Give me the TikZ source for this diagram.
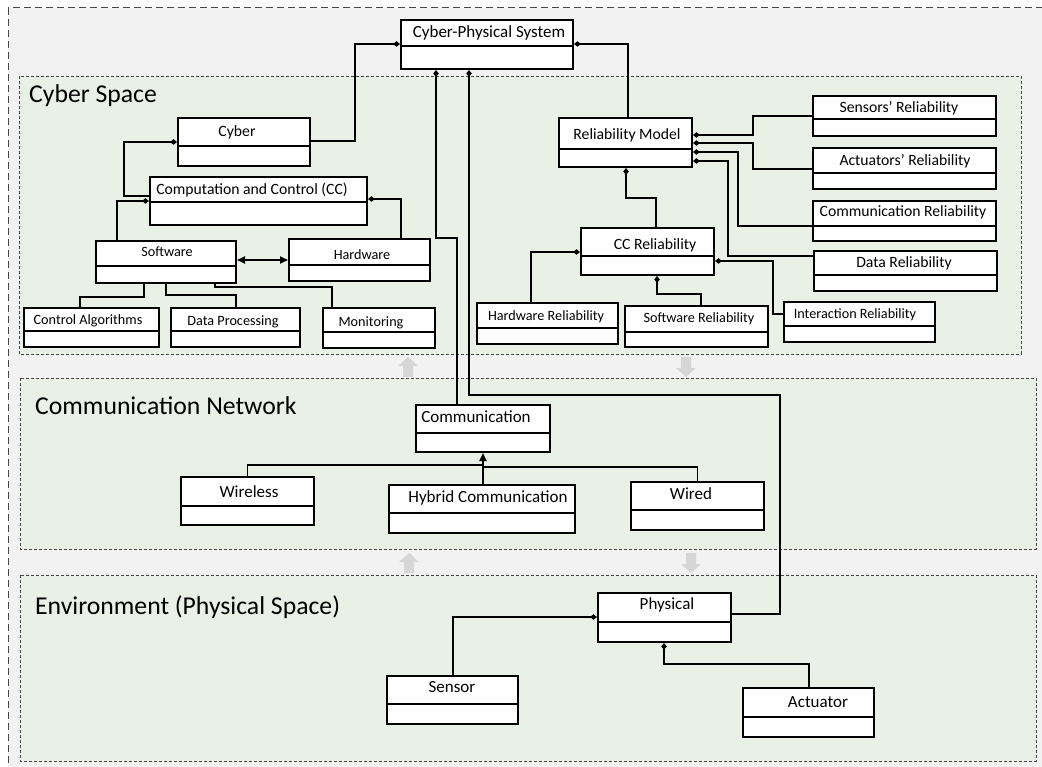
\documentclass[tikz,border=0pt]{standalone}
\usepackage{fontspec}
\setmainfont{Carlito}
\usetikzlibrary{arrows.meta,fit}
\definecolor{panelgreen}{RGB}{233,240,229}
\definecolor{outergray}{RGB}{242,242,242}
\definecolor{dashgray}{RGB}{70,70,70}
\definecolor{blockarrow}{RGB}{214,214,214}
\begin{document}
\begin{tikzpicture}[x=1pt,y=-1pt,
  umlbox/.style={draw=black, line width=2pt, fill=white, inner sep=0pt},
  divider/.style={draw=black, line width=2pt},
  conn/.style={draw=black, line width=1.8pt, line join=miter},
  panel/.style={fill=panelgreen, draw=dashgray, line width=0.9pt, dash pattern=on 3pt off 2pt},
  tbase/.style={inner sep=0pt, text height=0.68em, text depth=0.18em, yshift=-2pt},
  ta/.style={tbase, font=\fontsize{14.2}{17}\selectfont},
  tb/.style={tbase, font=\fontsize{15.7}{19}\selectfont},
  tc/.style={tbase, font=\fontsize{17}{20}\selectfont},
  title/.style={inner sep=0pt, text height=0.68em, text depth=0.18em, yshift=-5pt, anchor=west, font=\fontsize{25.7}{30}\selectfont},
  blk/.style={fill=blockarrow, draw=none}
]
\useasboundingbox (0,0) rectangle (1042,767);
\clip (0,0) rectangle (1042,767);
\fill[white] (0,0) rectangle (1042,767);
% outer frame
\draw[fill=outergray, draw=dashgray, line width=1pt, dash pattern=on 7pt off 4pt] (8,8) rectangle (1070,800);
% panels
\draw[panel] (19,76) rectangle (1021,354);
\draw[panel] (20,378) rectangle (1036,549);
\draw[panel] (20,575) rectangle (1036,761);
\node[title] (tCyberSpace) at (29,95) {Cyber Space};
\node[title] (tCommNet) at (35,407) {Communication Network};
\node[title] (tEnv) at (35,607) {Environment (Physical Space)};
% block arrows between layers
\fill[blk] (408,357) -- (418,366) -- (413,366) -- (413,377) -- (403,377) -- (403,366) -- (398,366) -- cycle;
\fill[blk] (686,377) -- (696,368) -- (691,368) -- (691,357) -- (681,357) -- (681,368) -- (676,368) -- cycle;
\fill[blk] (409,553) -- (419,562) -- (414,562) -- (414,573) -- (404,573) -- (404,562) -- (399,562) -- cycle;
\fill[blk] (691,573) -- (701,564) -- (696,564) -- (696,553) -- (686,553) -- (686,564) -- (681,564) -- cycle;

% ---- boxes ----
\node[umlbox, fit={(401,20) (573,69)}] (cps) {};
\draw[divider] (cps.west |- 0,46) -- (cps.east |- 0,46);
\node[tc] (cpsT) at (489,33) {Cyber-Physical System};

\node[umlbox, fit={(178,118) (310,166)}] (cyber) {};
\draw[divider] (cyber.west |- 0,146) -- (cyber.east |- 0,146);
\node[tb] (cyberT) at (237,132) {Cyber};

\node[umlbox, fit={(150,177) (367,225)}] (cc) {};
\draw[divider] (cc.west |- 0,202) -- (cc.east |- 0,202);
\node[tb] (ccT) at (252,190) {Computation and Control (CC)};

\node[umlbox, fit={(96,241) (236,283)}] (software) {};
\draw[divider] (software.west |- 0,266) -- (software.east |- 0,266);
\node[ta] (softwareT) at (167,252) {Software};

\node[umlbox, fit={(289,239) (430,281)}] (hardware) {};
\draw[divider] (hardware.west |- 0,265) -- (hardware.east |- 0,265);
\node[ta] (hardwareT) at (362,255) {Hardware};

\node[umlbox, fit={(24,308) (159,347)}] (ctrlalg) {};
\draw[divider] (ctrlalg.west |- 0,331) -- (ctrlalg.east |- 0,331);
\node[ta] (ctrlalgT) at (88,320) {Control Algorithms};

\node[umlbox, fit={(171,308) (300,347)}] (dataproc) {};
\draw[divider] (dataproc.west |- 0,331) -- (dataproc.east |- 0,331);
\node[ta] (dataprocT) at (233,321) {Data Processing};

\node[umlbox, fit={(323,308) (435,348)}] (monitor) {};
\draw[divider] (monitor.west |- 0,332) -- (monitor.east |- 0,332);
\node[ta] (monitorT) at (371,322) {Monitoring};

\node[umlbox, fit={(559,118) (692,167)}] (relmodel) {};
\draw[divider] (relmodel.west |- 0,149) -- (relmodel.east |- 0,149);
\node[tb] (relmodelT) at (627,135) {Reliability Model};

\node[umlbox, fit={(813,96) (996,136)}] (sensrel) {};
\draw[divider] (sensrel.west |- 0,119) -- (sensrel.east |- 0,119);
\node[tb] (sensrelT) at (899,108) {Sensors’ Reliability};

\node[umlbox, fit={(813,148) (996,189)}] (actrel) {};
\draw[divider] (actrel.west |- 0,173) -- (actrel.east |- 0,173);
\node[tb] (actrelT) at (905,161) {Actuators’ Reliability};

\node[umlbox, fit={(813,201) (996,241)}] (commrel) {};
\draw[divider] (commrel.west |- 0,226) -- (commrel.east |- 0,226);
\node[tb] (commrelT) at (903,212) {Communication Reliability};

\node[umlbox, fit={(814,251) (997,291)}] (datarel) {};
\draw[divider] (datarel.west |- 0,275) -- (datarel.east |- 0,275);
\node[tb] (datarelT) at (904,263) {Data Reliability};

\node[umlbox, fit={(581,228) (714,275)}] (ccrel) {};
\draw[divider] (ccrel.west |- 0,256) -- (ccrel.east |- 0,256);
\node[tb] (ccrelT) at (655,245) {CC Reliability};

\node[umlbox, fit={(477,303) (618,344)}] (hwrel) {};
\draw[divider] (hwrel.west |- 0,328) -- (hwrel.east |- 0,328);
\node[ta] (hwrelT) at (546,316) {Hardware Reliability};

\node[umlbox, fit={(625,306) (768,347)}] (swrel) {};
\draw[divider] (swrel.west |- 0,332) -- (swrel.east |- 0,332);
\node[ta] (swrelT) at (699,318) {Software Reliability};

\node[umlbox, fit={(784,302) (935,342)}] (intrel) {};
\draw[divider] (intrel.west |- 0,326) -- (intrel.east |- 0,326);
\node[ta] (intrelT) at (855,314) {Interaction Reliability};

\node[umlbox, fit={(416,405) (550,452)}] (comm) {};
\draw[divider] (comm.west |- 0,433) -- (comm.east |- 0,433);
\node[tc] (commT) at (476,418) {Communication};

\node[umlbox, fit={(181,477) (314,525)}] (wireless) {};
\draw[divider] (wireless.west |- 0,506) -- (wireless.east |- 0,506);
\node[tc] (wirelessT) at (249,493) {Wireless};

\node[umlbox, fit={(389,485) (575,533)}] (hybrid) {};
\draw[divider] (hybrid.west |- 0,513) -- (hybrid.east |- 0,513);
\node[tc] (hybridT) at (488,498) {Hybrid Communication};

\node[umlbox, fit={(631,482) (764,530)}] (wired) {};
\draw[divider] (wired.west |- 0,510) -- (wired.east |- 0,510);
\node[tc] (wiredT) at (691,495) {Wired};

\node[umlbox, fit={(598,593) (731,642)}] (physical) {};
\draw[divider] (physical.west |- 0,622) -- (physical.east |- 0,622);
\node[tc] (physicalT) at (667,605) {Physical};

\node[umlbox, fit={(387,676) (518,724)}] (sensor) {};
\draw[divider] (sensor.west |- 0,704) -- (sensor.east |- 0,704);
\node[tc] (sensorT) at (452,688) {Sensor};

\node[umlbox, fit={(743,688) (874,737)}] (actuator) {};
\draw[divider] (actuator.west |- 0,717) -- (actuator.east |- 0,717);
\node[tc] (actuatorT) at (818,703) {Actuator};

% ---- connectors ----
\draw[conn, -{Diamond[length=7pt,width=5.5pt]}] (cyber.east |- 0,141) -- (355,141) -- (355,44) -- (cps.west |- 0,44);
\draw[conn, -{Diamond[length=7pt,width=5.5pt]}] (relmodel.north -| 628,0) -- (628,44) -- (cps.east |- 0,44);
\draw[conn, -{Diamond[length=7pt,width=5.5pt]}] (cc.west |- 0,196) -- (124,196) -- (124,142) -- (cyber.west |- 0,142);
\draw[conn, -{Diamond[length=7pt,width=5.5pt]}] (software.north -| 117,0) -- (117,201) -- (cc.west |- 0,201);
\draw[conn, -{Diamond[length=7pt,width=5.5pt]}] (hardware.north -| 401,0) -- (401,199) -- (cc.east |- 0,199);
\draw[conn, {Triangle[length=8pt,width=7pt]}-{Triangle[length=8pt,width=7pt]}] (software.east |- 0,260) -- (hardware.west |- 0,260);
\draw[conn] (software.south -| 144,0) -- (144,297) -- (80,297) -- (ctrlalg.north -| 80,0);
\draw[conn] (software.south -| 166,0) -- (166,295) -- (236,295) -- (dataproc.north -| 236,0);
\draw[conn] (software.south -| 215,0) -- (215,287) -- (332,287) -- (monitor.north -| 332,0);

\draw[conn, {Diamond[length=7pt,width=5.5pt]}-] (relmodel.east |- 0,135) -- (753,135) -- (753,116) -- (sensrel.west |- 0,116);
\draw[conn, {Diamond[length=7pt,width=5.5pt]}-] (relmodel.east |- 0,143) -- (753,143) -- (753,169) -- (actrel.west |- 0,169);
\draw[conn, {Diamond[length=7pt,width=5.5pt]}-] (relmodel.east |- 0,152) -- (738,152) -- (738,226) -- (commrel.west |- 0,226);
\draw[conn, {Diamond[length=7pt,width=5.5pt]}-] (relmodel.east |- 0,161) -- (728,161) -- (728,256) -- (datarel.west |- 0,256);
\draw[conn, {Diamond[length=7pt,width=5.5pt]}-] (relmodel.south -| 626,0) -- (626,198) -- (656,198) -- (ccrel.north -| 656,0);
\draw[conn, {Diamond[length=7pt,width=5.5pt]}-] (ccrel.west |- 0,252) -- (531,252) -- (hwrel.north -| 531,0);
\draw[conn, {Diamond[length=7pt,width=5.5pt]}-] (ccrel.south -| 657,0) -- (657,294) -- (701,294) -- (swrel.north -| 701,0);
\draw[conn, {Diamond[length=7pt,width=5.5pt]}-] (ccrel.east |- 0,261) -- (773,261) -- (773,314) -- (intrel.west |- 0,314);

\draw[conn, {Diamond[length=7pt,width=5.5pt]}-] (cps.south -| 436,0) -- (436,238) -- (457,238) -- (comm.north -| 457,0);
\draw[conn, {Diamond[length=7pt,width=5.5pt]}-] (cps.south -| 469,0) -- (469,395) -- (780,395) -- (780,614) -- (physical.east |- 0,614);

\draw[conn, -{Triangle[length=8pt,width=7pt]}] (hybrid.north -| 483,0) -- (comm.south -| 483,0);
\draw[conn] (wireless.north) |- (483,465);
\draw[conn] (wired.north) |- (483,467);

\draw[conn, {Diamond[length=7pt,width=5.5pt]}-] (physical.west |- 0,617) -- (453,617) -- (sensor.north -| 453,0);
\draw[conn, {Diamond[length=7pt,width=5.5pt]}-] (physical.south -| 664,0) -- (664,664) -- (809,664) -- (actuator.north -| 809,0);
\end{tikzpicture}
\end{document}
